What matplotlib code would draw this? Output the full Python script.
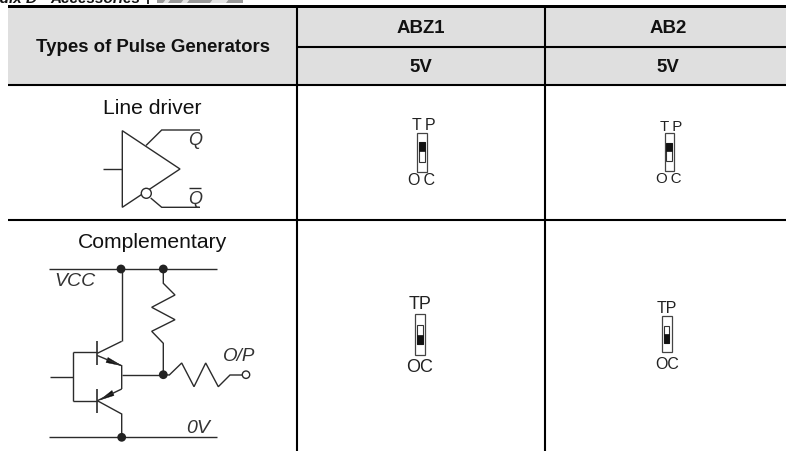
import matplotlib
matplotlib.use('Agg')
import matplotlib.pyplot as plt
from matplotlib.patches import Rectangle, Circle, Polygon

plt.rcParams['font.family'] = ['Liberation Sans', 'DejaVu Sans']

# all positions are in pixels of the picture, y going down
header_top = ['ABZ1', 'AB2']
header_volt = ['5V', '5V']
header_left = 'Types of Pulse Generators'
row_names = ['Line driver', 'Complementary']
col_centers = [421, 668]
switch_labels = ['TP', 'OC']
ink = '#2b2b2b'


def Wire(ax, xs, ys, lw=1.0, color=ink):
    ax.plot(xs, ys, color=color, lw=lw, solid_capstyle='butt', solid_joinstyle='miter')


def Switch(ax, outer, inner, up, tp_pos, oc_pos, fs, spacing):
    # outer, inner = x0, x1, y0, y1
    ax.add_patch(Rectangle((outer[0], outer[2]), outer[1] - outer[0], outer[3] - outer[2],
                           fc='white', ec='#444444', lw=0.9))
    ax.add_patch(Rectangle((inner[0], inner[2]), inner[1] - inner[0], inner[3] - inner[2],
                           fc='white', ec='#333333', lw=0.8))
    mid = (inner[2] + inner[3]) / 2
    if up:
        ax.add_patch(Rectangle((inner[0], inner[2]), inner[1] - inner[0], mid - inner[2] - 1.5, fc='#111111', ec='#111111', lw=0.5))
    else:
        ax.add_patch(Rectangle((inner[0], mid), inner[1] - inner[0], inner[3] - mid, fc='#111111', ec='#111111', lw=0.5))
    for lab, pos in zip(switch_labels, [tp_pos, oc_pos]):
        ax.text(pos[0], pos[1], spacing.join(lab), ha='center', va='center', fontsize=fs, color='#222222')


fig = plt.figure(figsize=(7.86, 4.52), dpi=100)
ax = fig.add_axes([0, 0, 1, 1])
ax.set_xlim(0, 786)
ax.set_ylim(452, 0)
ax.axis('off')

# page header, cut off by the top of the picture
ax.text(140, 3.2, 'Accessories', ha='right', va='baseline', fontsize=11,
        fontweight='bold', style='italic', color='#111111')
ax.text(37.5, 3.2, 'Appendix D', ha='right', va='baseline', fontsize=11,
        fontweight='bold', style='italic', color='#111111')
Wire(ax, [147.5, 147.5], [0, 5], lw=1.2, color='black')
ax.add_patch(Rectangle((157, 0), 86, 4, fc='#9a9a9a', ec='none'))
for x0, x1 in [(163, 168), (181, 187), (210, 226)]:
    ax.add_patch(Polygon([(x0, 4), (x0 + 3, 0), (x1 + 3, 0), (x1, 4)], fc='#e4e4e4', ec='none'))

# table
ax.add_patch(Rectangle((8, 9), 778, 76, fc='#dfdfdf', ec='none'))
ax.add_patch(Rectangle((8, 6), 778, 3.4, fc='black', ec='none'))
Wire(ax, [296.7, 296.7], [9, 452], lw=1.5, color='black')
Wire(ax, [545, 545], [9, 452], lw=1.5, color='black')
Wire(ax, [296.7, 786], [47.7, 47.7], lw=1.5, color='black')
Wire(ax, [8, 786], [85.8, 85.8], lw=1.5, color='black')
Wire(ax, [8, 786], [221, 221], lw=1.5, color='black')

ax.text(152.5, 47.8, header_left, ha='center', va='center', fontsize=13.4, fontweight='bold', color='#111111')
for cx, top, volt in zip(col_centers, header_top, header_volt):
    ax.text(cx, 28.5, top, ha='center', va='center', fontsize=13.4, fontweight='bold', color='#111111')
    ax.text(cx, 67.5, volt, ha='center', va='center', fontsize=13.4, fontweight='bold', color='#111111')

ax.text(152.7, 108, row_names[0], ha='center', va='center', fontsize=15.2, color='#111111')
ax.text(152.3, 243, row_names[1], ha='center', va='center', fontsize=15.2, color='#111111')

# line driver symbol
ax.add_patch(Polygon([(122.3, 131.7), (180, 170), (122.3, 208.3)], fc='none', ec=ink, lw=1.0))
Wire(ax, [103.3, 122.3], [170, 170])
Wire(ax, [146, 161.7, 200], [146.5, 131, 131])
Wire(ax, [150.7, 161.7, 200], [199, 208.3, 208.3])
ax.add_patch(Circle((146.3, 194.3), 5, fc='white', ec=ink, lw=1.0, zorder=3))
ax.text(195, 141, 'Q', ha='center', va='center', fontsize=13, style='italic', color='#333333')
ax.text(195, 199.5, 'Q', ha='center', va='center', fontsize=13, style='italic', color='#333333')
Wire(ax, [189, 201], [189.3, 189.3])

# complementary output circuit
Wire(ax, [49.3, 217], [270, 270])
Wire(ax, [49.3, 217], [438.3, 438.3])
Wire(ax, [121.7, 121.7], [270, 342.3])
Wire(ax, [97.3, 121.7], [354.3, 342.3])
Wire(ax, [97.3, 97.3], [342, 366], lw=1.2)
Wire(ax, [97.3, 121.7, 121.7], [356.5, 366.7, 390])
Wire(ax, [97.3, 97.3], [390, 414.3], lw=1.2)
Wire(ax, [121.7, 97.3], [390, 401.7])
Wire(ax, [97.3, 121.7, 121.7], [401.7, 415, 438.3])
Wire(ax, [121.7, 163.3], [375.7, 375.7])
Wire(ax, [72.7, 97.3], [353.3, 353.3])
Wire(ax, [72.7, 97.3], [401.7, 401.7])
Wire(ax, [72.7, 72.7], [353.3, 401.7])
Wire(ax, [50, 72.7], [377.7, 377.7])
ax.add_patch(Polygon([(121.7, 366.7), (108, 358.5), (106, 363.5)], fc='#111111', ec='#111111', lw=0.3))
ax.add_patch(Polygon([(100, 401), (112, 391.5), (114, 396.5)], fc='#111111', ec='#111111', lw=0.3))
Wire(ax, [163.3, 163.3, 175, 151.7, 175, 151.7, 163.3, 163.3],
     [270, 284.3, 296, 308.3, 320.7, 332.3, 344.3, 375.7])
Wire(ax, [163.3, 169.3, 181.7, 194, 205.7, 218.3, 230, 242],
     [375.7, 376, 364, 387.7, 364, 387.7, 376, 376])
ax.add_patch(Circle((246, 375.7), 3.7, fc='white', ec=ink, lw=1.0, zorder=3))
for dot in [(121, 270), (163.3, 270), (163.3, 375.7), (121.7, 438.3)]:
    ax.add_patch(Circle(dot, 4.4, fc='#222222', ec='none', zorder=4))
ax.text(74.5, 282, 'VCC', ha='center', va='center', fontsize=14, style='italic', color='#333333')
ax.text(198.5, 429, '0V', ha='center', va='center', fontsize=14, style='italic', color='#333333')
ax.text(239, 357, 'O/P', ha='center', va='center', fontsize=13.5, style='italic', color='#333333')

# TP/OC switches
Switch(ax, (417.3, 427.3, 134, 172.7), (419.3, 425.3, 143.3, 163.3), True, (424, 126), (421.7, 181), 11.5, '\u2009')
Switch(ax, (665, 674, 134, 171.7), (666.3, 671.7, 144, 162.3), True, (671, 126.7), (668.3, 179.3), 10.8, '\u2009')
Switch(ax, (414.7, 425.3, 315, 355.7), (417.3, 422.7, 326, 345.3), False, (420, 305), (420, 367.7), 13, '')
Switch(ax, (662, 671.7, 317.3, 353.3), (664.3, 669.3, 326.7, 344), False, (666.7, 309), (666.7, 365), 11.5, '')

plt.savefig('out.png', dpi=100)
plt.close()
